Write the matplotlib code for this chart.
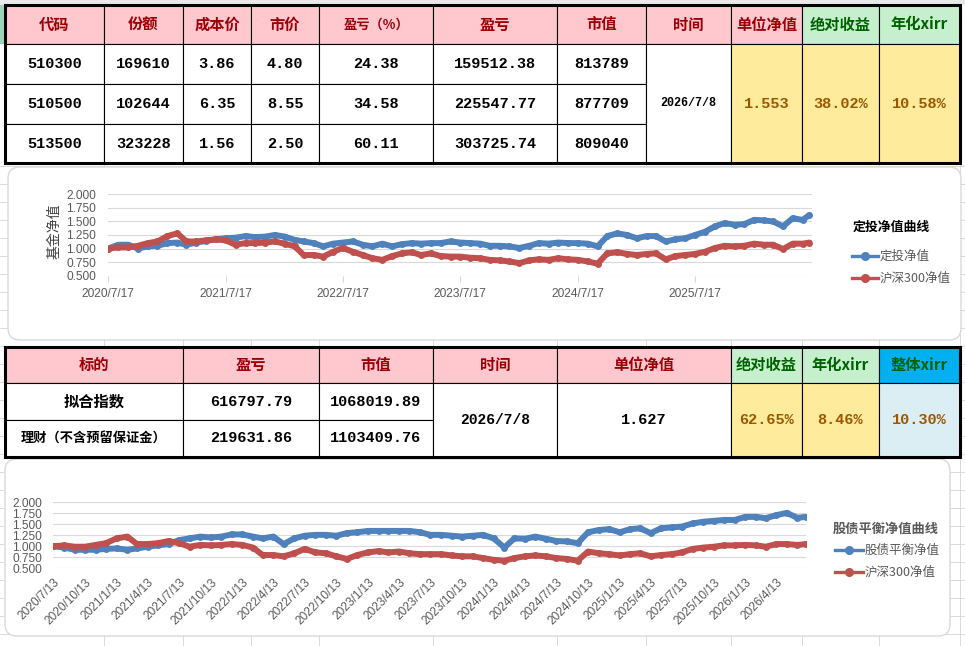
import matplotlib
matplotlib.use('Agg')
import matplotlib.pyplot as plt
from matplotlib.patches import Rectangle, FancyBboxPatch
from matplotlib.ticker import FormatStrFormatter
import pandas as pd

plt.rcParams['font.family'] = ['Noto Sans CJK SC', 'DejaVu Sans']

# ---- table data ----
t1_headers = ['代码', '份额', '成本价', '市价', '盈亏（%）', '盈亏', '市值', '时间', '单位净值', '绝对收益', '年化xirr']
t1_codes = ['510300', '510500', '513500']
t1_shares = ['169610', '102644', '323228']
t1_cost = ['3.86', '6.35', '1.56']
t1_price = ['4.80', '8.55', '2.50']
t1_pct = ['24.38', '34.58', '60.11']
t1_pnl = ['159512.38', '225547.77', '303725.74']
t1_value = ['813789', '877709', '809040']
t1_date = '2026/7/8'
t1_nav = '1.553'
t1_abs = '38.02%'
t1_xirr = '10.58%'

t2_headers = ['标的', '盈亏', '市值', '时间', '单位净值', '绝对收益', '年化xirr', '整体xirr']
t2_names = ['拟合指数', '理财（不含预留保证金）']
t2_pnl = ['616797.79', '219631.86']
t2_value = ['1068019.89', '1103409.76']
t2_date = '2026/7/8'
t2_nav = '1.627'
t2_abs = '62.65%'
t2_xirr = '8.46%'
t2_total_xirr = '10.30%'

# ---- chart data (monthly readings) ----
c1_start, c1_end = '2020-07-17', '2026-07-08'
c1_dingtou = [1.00, 1.07, 1.07, 1.00, 1.04, 1.05, 1.10, 1.11, 1.07, 1.11,
              1.14, 1.17, 1.19, 1.20, 1.23, 1.21, 1.22, 1.25, 1.22, 1.16,
              1.13, 1.10, 1.04, 1.09, 1.11, 1.13, 1.07, 1.04, 1.09, 1.04,
              1.08, 1.10, 1.09, 1.10, 1.10, 1.13,
              1.11, 1.10, 1.09, 1.05, 1.05, 1.04, 1.01, 1.05, 1.10, 1.09,
              1.11, 1.10, 1.10, 1.09, 1.04, 1.23, 1.28, 1.25, 1.19, 1.23,
              1.23, 1.13, 1.17, 1.19, 1.25, 1.31, 1.41, 1.47, 1.44, 1.45,
              1.53, 1.52, 1.50, 1.41, 1.56, 1.53, 1.62]
c1_hs300 = [1.00, 1.02, 1.02, 1.05, 1.10, 1.13, 1.23, 1.28, 1.13, 1.13,
            1.15, 1.17, 1.15, 1.07, 1.10, 1.10, 1.11, 1.13, 1.09, 1.04,
            0.88, 0.88, 0.85, 0.94, 1.01, 0.94, 0.88, 0.82, 0.79, 0.86,
            0.91, 0.93, 0.88, 0.91, 0.86, 0.85,
            0.85, 0.83, 0.82, 0.79, 0.78, 0.76, 0.73, 0.78, 0.80, 0.79,
            0.82, 0.80, 0.79, 0.76, 0.72, 0.91, 0.93, 0.90, 0.88, 0.90,
            0.91, 0.80, 0.86, 0.88, 0.90, 0.94, 1.01, 1.05, 1.04, 1.05,
            1.09, 1.07, 1.07, 0.99, 1.09, 1.09, 1.11]

c2_start, c2_end = '2020-07-13', '2026-07-08'
c2_balance = [1.00, 0.97, 0.92, 0.92, 0.92, 0.94, 0.95, 0.92, 0.95, 0.99,
              1.02, 1.05, 1.14, 1.18, 1.22, 1.20, 1.22, 1.27, 1.27, 1.22,
              1.18, 1.22, 1.05, 1.18, 1.24, 1.26, 1.26, 1.24, 1.30, 1.32,
              1.35, 1.35, 1.35, 1.35, 1.35, 1.32,
              1.26, 1.26, 1.24, 1.22, 1.24, 1.26, 1.18, 0.97, 1.18, 1.17,
              1.22, 1.17, 1.12, 1.11, 1.07, 1.32, 1.37, 1.39, 1.32, 1.39,
              1.41, 1.30, 1.41, 1.43, 1.45, 1.52, 1.56, 1.58, 1.60, 1.60,
              1.67, 1.67, 1.64, 1.71, 1.76, 1.65, 1.67]
c2_hs300 = [1.00, 1.02, 0.99, 0.99, 1.03, 1.07, 1.18, 1.22, 1.05, 1.05,
            1.07, 1.12, 1.07, 0.99, 1.03, 1.02, 1.03, 1.05, 1.03, 0.97,
            0.80, 0.80, 0.77, 0.84, 0.94, 0.86, 0.84, 0.77, 0.71, 0.80,
            0.86, 0.89, 0.86, 0.88, 0.84, 0.82,
            0.82, 0.82, 0.79, 0.77, 0.77, 0.73, 0.69, 0.67, 0.73, 0.77,
            0.79, 0.77, 0.73, 0.71, 0.67, 0.88, 0.84, 0.82, 0.79, 0.82,
            0.84, 0.77, 0.80, 0.82, 0.86, 0.94, 0.97, 0.99, 1.02, 1.02,
            1.03, 1.02, 0.99, 1.05, 1.05, 1.03, 1.05]

y_ticks = [0.5, 0.75, 1.0, 1.25, 1.5, 1.75, 2.0]

# ---- colours ----
PINK, PINK_TXT = '#FFC7CE', '#9C0006'
GREEN, GREEN_TXT = '#C6EFCE', '#006100'
YELLOW, YELLOW_TXT = '#FFEB9C', '#9C5700'
BLUE_HEAD, LIGHT_BLUE = '#00B0F0', '#DAEEF3'
C_BLUE, C_RED = '#4F81BD', '#C0504D'
GRID = '#D9D9D9'
MONO = ['Liberation Mono', 'DejaVu Sans Mono']
CJK = ['Noto Sans CJK SC', 'DejaVu Sans']

W, H = 965, 646
fig = plt.figure(figsize=(W / 100, H / 100), dpi=100)
bg = fig.add_axes([0, 0, 1, 1])
bg.set_xlim(0, W)
bg.set_ylim(H, 0)
bg.axis('off')


def px_axes(x0, y0, x1, y1):
    return fig.add_axes([x0 / W, 1 - y1 / H, (x1 - x0) / W, (y1 - y0) / H])


def cell(x0, x1, y0, y1, fill='white', text='', color='black', size=11,
         family=None, weight='bold'):
    bg.add_patch(Rectangle((x0, y0), x1 - x0, y1 - y0, fc=fill, ec='black', lw=0.8, zorder=2))
    if text:
        bg.text((x0 + x1) / 2, (y0 + y1) / 2, text, ha='center', va='center', color=color,
                fontsize=size, family=family or CJK, fontweight=weight, zorder=3)


# --- spreadsheet background grid ---
sheet_cols = [104, 183, 251, 319, 433, 557, 646, 731, 802, 879, 960]
for c in sheet_cols:
    bg.plot([c, c], [0, H], color='#D4D4D4', lw=0.6, zorder=0)
for r in range(166, H, 18):
    bg.plot([0, W], [r, r], color='#D4D4D4', lw=0.6, zorder=0)
bg.add_patch(Rectangle((0, 0), W, 5, fc='#E9E9E9', ec='none', zorder=0.5))
bg.add_patch(Rectangle((0, 5), 4, 39, fc='#9FD5B7', ec='none', zorder=0.5))

# --- table 1 ---
t1_x = [5, 104, 183, 251, 319, 433, 557, 646, 731, 802, 879, 960]
t1_y = [5, 44, 84, 124, 163]
for i, h in enumerate(t1_headers):
    green = h in ('绝对收益', '年化xirr')
    cell(t1_x[i], t1_x[i + 1], t1_y[0], t1_y[1], GREEN if green else PINK, h,
         GREEN_TXT if green else PINK_TXT, 9.5 if h == '盈亏（%）' else 11)
cols1 = [t1_codes, t1_shares, t1_cost, t1_price, t1_pct, t1_pnl, t1_value]
for r in range(3):
    for c, col in enumerate(cols1):
        cell(t1_x[c], t1_x[c + 1], t1_y[r + 1], t1_y[r + 2], 'white', col[r], 'black', 11, MONO)
cell(t1_x[7], t1_x[8], t1_y[1], t1_y[4], 'white', t1_date, 'black', 8.5, MONO)
for k, v in enumerate([t1_nav, t1_abs, t1_xirr]):
    cell(t1_x[8 + k], t1_x[9 + k], t1_y[1], t1_y[4], YELLOW, v, YELLOW_TXT, 11, MONO)
bg.add_patch(Rectangle((t1_x[0], t1_y[0]), t1_x[-1] - t1_x[0], t1_y[-1] - t1_y[0],
                       fc='none', ec='black', lw=2.2, zorder=4))

# --- table 2 ---
t2_x = [5, 183, 319, 433, 557, 731, 802, 879, 960]
t2_y = [347, 383, 420, 457]
for i, h in enumerate(t2_headers):
    if h in ('绝对收益', '年化xirr'):
        fill, tc = GREEN, GREEN_TXT
    elif h == '整体xirr':
        fill, tc = BLUE_HEAD, GREEN_TXT
    else:
        fill, tc = PINK, PINK_TXT
    cell(t2_x[i], t2_x[i + 1], t2_y[0], t2_y[1], fill, h, tc, 11)
for r in range(2):
    cell(t2_x[0], t2_x[1], t2_y[r + 1], t2_y[r + 2], 'white', t2_names[r], 'black', 11 if r == 0 else 9.5)
    cell(t2_x[1], t2_x[2], t2_y[r + 1], t2_y[r + 2], 'white', t2_pnl[r], 'black', 11, MONO)
    cell(t2_x[2], t2_x[3], t2_y[r + 1], t2_y[r + 2], 'white', t2_value[r], 'black', 11, MONO)
cell(t2_x[3], t2_x[4], t2_y[1], t2_y[3], 'white', t2_date, 'black', 10.5, MONO)
cell(t2_x[4], t2_x[5], t2_y[1], t2_y[3], 'white', t2_nav, 'black', 11, MONO)
cell(t2_x[5], t2_x[6], t2_y[1], t2_y[3], YELLOW, t2_abs, YELLOW_TXT, 11, MONO)
cell(t2_x[6], t2_x[7], t2_y[1], t2_y[3], YELLOW, t2_xirr, YELLOW_TXT, 11, MONO)
cell(t2_x[7], t2_x[8], t2_y[1], t2_y[3], LIGHT_BLUE, t2_total_xirr, YELLOW_TXT, 11, MONO)
bg.add_patch(Rectangle((t2_x[0], t2_y[0]), t2_x[-1] - t2_x[0], t2_y[-1] - t2_y[0],
                       fc='none', ec='black', lw=2.2, zorder=4))

# --- chart frames ---
bg.add_patch(FancyBboxPatch((8, 167), 953, 173, boxstyle='round,pad=0,rounding_size=12',
                            fc='white', ec=GRID, lw=1, zorder=1))
bg.add_patch(FancyBboxPatch((5, 459), 945, 177, boxstyle='round,pad=0,rounding_size=12',
                            fc='white', ec=GRID, lw=1, zorder=1))


def monthly_dates(start, end, n):
    d = list(pd.date_range(start, periods=n - 1, freq=pd.DateOffset(months=1)))
    return d + [pd.Timestamp(end)]


def style_chart(ax):
    ax.set_facecolor('none')
    ax.set_ylim(0.497, 2.003)
    ax.set_yticks(y_ticks)
    ax.yaxis.set_major_formatter(FormatStrFormatter('%.3f'))
    ax.grid(axis='y', color=GRID, lw=0.8)
    ax.set_axisbelow(True)
    for s in ax.spines.values():
        s.set_visible(False)
    ax.tick_params(axis='y', length=0, pad=9, labelsize=8.6, labelcolor='#595959',
                   labelfontfamily='Liberation Sans')


LINE = dict(lw=4.3, marker='o', ms=5, mew=0, solid_capstyle='round', solid_joinstyle='round')

# --- chart 1 ---
ax1 = px_axes(108.3, 194.3, 812, 275.7)
d1 = monthly_dates(c1_start, c1_end, len(c1_dingtou))
ax1.plot(d1, c1_dingtou, color=C_BLUE, **LINE)
ax1.plot(d1, c1_hs300, color=C_RED, **LINE)
style_chart(ax1)
ax1.set_xlim(pd.Timestamp(c1_start), pd.Timestamp('2026-07-16'))
x1_ticks = [pd.Timestamp(f'{y}-07-17') for y in range(2020, 2026)]
ax1.set_xticks(x1_ticks)
ax1.set_xticklabels([f'{t.year}/{t.month}/{t.day}' for t in x1_ticks])
ax1.tick_params(axis='x', length=4, color=GRID, pad=5, labelsize=8.6, labelcolor='#595959',
                labelfontfamily='Liberation Sans')
bg.text(55, 231, '基金净值', rotation=90, ha='center', va='center', fontsize=10,
        color='#404040', family=CJK, zorder=3)
bg.text(853, 227, '定投净值曲线', ha='left', va='center', fontsize=9.3, fontweight='bold',
        color='black', family=CJK, zorder=3)
for yy, col, lab in [(256, C_BLUE, '定投净值'), (278, C_RED, '沪深300净值')]:
    bg.plot([852, 878], [yy, yy], color=col, lw=2.4, zorder=3)
    bg.plot([865], [yy], marker='o', ms=5.5, color=col, zorder=3)
    bg.text(880, yy, lab, ha='left', va='center', fontsize=9, color='#595959', family=CJK, zorder=3)

# --- chart 2 ---
ax2 = px_axes(53.3, 502.3, 806, 568.3)
d2 = monthly_dates(c2_start, c2_end, len(c2_balance))
ax2.plot(d2, c2_balance, color=C_BLUE, **LINE)
ax2.plot(d2, c2_hs300, color=C_RED, **LINE)
style_chart(ax2)
ax2.set_xlim(pd.Timestamp(c2_start), pd.Timestamp(c2_end))
x2_ticks = list(pd.date_range(c2_start, '2026-04-13', freq=pd.DateOffset(months=3)))
ax2.set_xticks(x2_ticks)
ax2.set_xticklabels([f'{t.year}/{t.month}/{t.day}' for t in x2_ticks], rotation=45,
                    ha='right', rotation_mode='anchor')
ax2.tick_params(axis='x', length=0, pad=6, labelsize=8.6, labelcolor='#595959',
                labelfontfamily='Liberation Sans')
ax2.tick_params(axis='y', pad=8)
bg.text(833, 529, '股债平衡净值曲线', ha='left', va='center', fontsize=9.5, fontweight='bold',
        color='#595959', family=CJK, zorder=3)
for yy, col, lab in [(550, C_BLUE, '股债平衡净值'), (572, C_RED, '沪深300净值')]:
    bg.plot([835, 863], [yy, yy], color=col, lw=2.4, zorder=3)
    bg.plot([849], [yy], marker='o', ms=5.5, color=col, zorder=3)
    bg.text(865, yy, lab, ha='left', va='center', fontsize=9, color='#595959', family=CJK, zorder=3)

fig.savefig('out.png', dpi=100)
